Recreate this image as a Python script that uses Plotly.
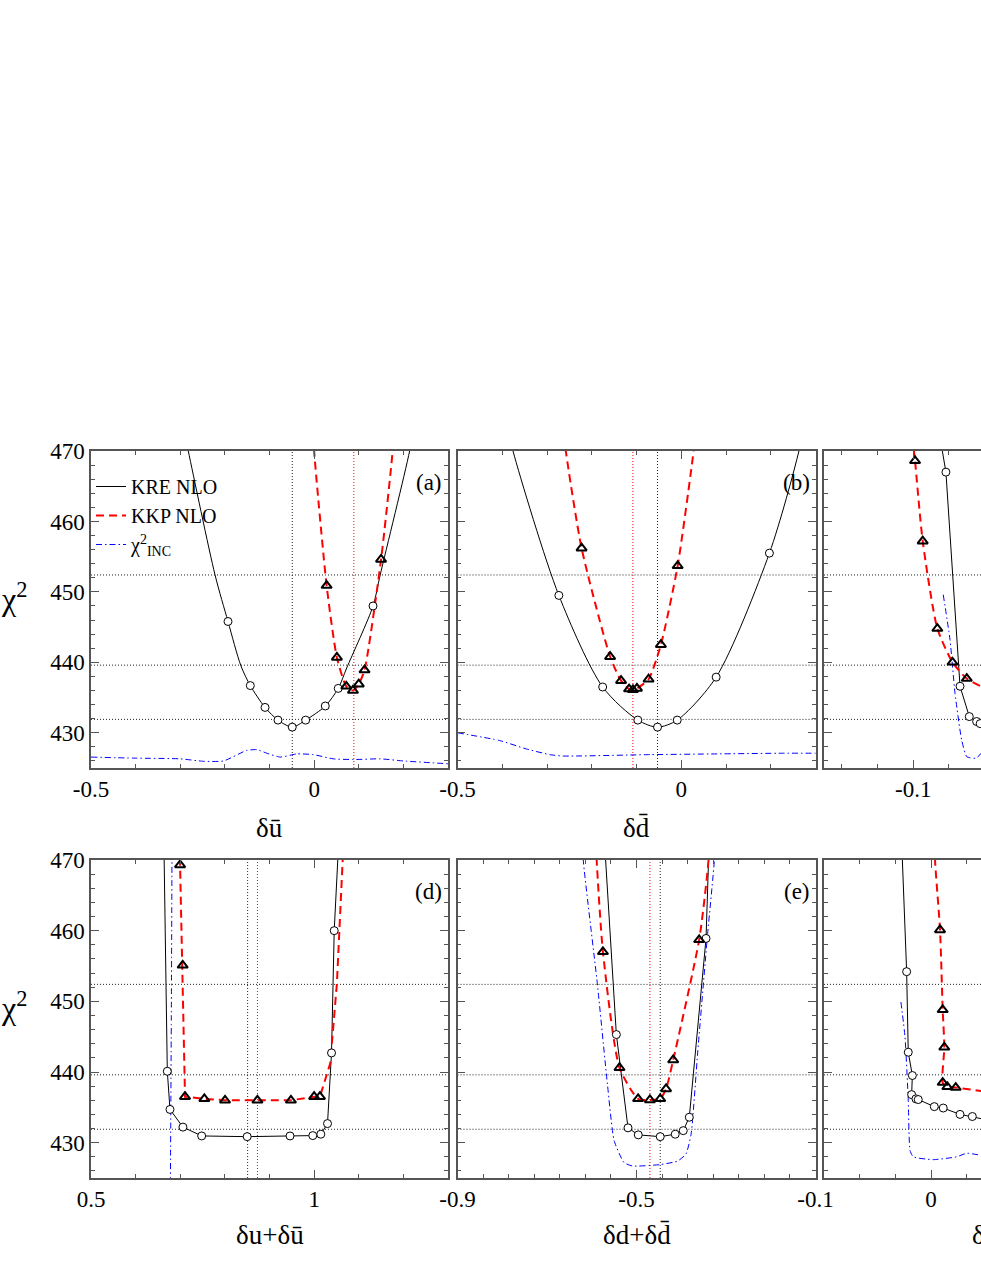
import plotly.graph_objects as go

# ---------------- data ----------------
conf_levels = [431.9, 439.6, 452.4]          # horizontal dotted levels

# (a)  delta ubar
a_kre_cx = [-0.295, -0.282, -0.222, -0.193, -0.164, -0.143, -0.110, -0.081, -0.049, -0.019, 0.025, 0.054, 0.073, 0.132, 0.148, 0.214, 0.225]
a_kre_cy = [474, 470, 452.4, 445.8, 439.5, 436.7, 433.6, 431.8, 430.8, 431.8, 433.8, 436.3, 439.2, 448.0, 452.4, 470, 474]
a_kre_px = [-0.193, -0.143, -0.110, -0.081, -0.049, -0.019, 0.025, 0.054, 0.132]
a_kre_py = [445.8, 436.7, 433.6, 431.8, 430.8, 431.8, 433.8, 436.3, 448.0]
a_kkp_cx = [-0.003, 0.000, 0.028, 0.051, 0.072, 0.087, 0.100, 0.113, 0.150, 0.176, 0.180]
a_kkp_cy = [474, 470, 450.9, 440.7, 436.6, 436.0, 436.9, 438.9, 454.6, 470, 474]
a_kkp_px = [0.028, 0.051, 0.072, 0.087, 0.100, 0.113, 0.150]
a_kkp_py = [450.9, 440.7, 436.6, 436.0, 436.9, 438.9, 454.6]
a_inc_x = [-0.5, -0.401, -0.30, -0.248, -0.203, -0.151, -0.128, -0.106, -0.076, -0.039, -0.002, 0.043, 0.088, 0.148, 0.2, 0.3]
a_inc_y = [426.55, 426.4, 426.3, 425.95, 426.0, 427.5, 427.6, 427.1, 426.55, 427.0, 426.9, 426.3, 426.2, 426.3, 426.0, 425.6]
a_min_kre, a_min_kkp = -0.049, 0.089

# (b)  delta dbar
b_kre_cx = [-0.39, -0.376, -0.2735, -0.1756, -0.097, -0.053, -0.009, 0.078, 0.197, 0.263, 0.275]
b_kre_cy = [474, 470, 449.5, 436.5, 431.8, 430.8, 431.8, 437.9, 455.5, 470, 474]
b_kre_px = [-0.2735, -0.1756, -0.097, -0.053, -0.009, 0.078, 0.197]
b_kre_py = [449.5, 436.5, 431.8, 430.8, 431.8, 437.9, 455.5]
b_kkp_cx = [-0.265, -0.258, -0.2227, -0.159, -0.1345, -0.1166, -0.108, -0.099, -0.073, -0.0455, -0.008, 0.0276, 0.034]
b_kkp_cy = [474, 470, 456.2, 440.8, 437.4, 436.2, 436.1, 436.3, 437.6, 442.5, 453.7, 470, 474]
b_kkp_px = [-0.2227, -0.159, -0.1345, -0.1166, -0.108, -0.099, -0.073, -0.0455, -0.008]
b_kkp_py = [456.2, 440.8, 437.4, 436.2, 436.1, 436.3, 437.6, 442.5, 453.7]
b_inc_x = [-0.5, -0.406, -0.346, -0.294, -0.264, -0.07, 0.08, 0.229, 0.302]
b_inc_y = [430.0, 428.9, 427.7, 426.9, 426.7, 426.9, 427.0, 427.1, 427.1]
b_min_kre, b_min_kkp = -0.053, -0.108

# (c)  delta sbar
c_kre_cx = [-0.0845, -0.0837, -0.0817, -0.0738, -0.0686, -0.0645, -0.0625, -0.058]
c_kre_cy = [474, 470, 467.0, 436.6, 432.3, 431.6, 431.3, 431.0]
c_kre_px = [-0.0817, -0.0738, -0.0686, -0.0645, -0.0625]
c_kre_py = [467.0, 436.6, 432.3, 431.6, 431.3]
c_kkp_cx = [-0.1000, -0.0996, -0.099, -0.0947, -0.0865, -0.078, -0.070, -0.062, -0.055]
c_kkp_cy = [474, 470, 468.6, 457.2, 444.8, 440.0, 437.7, 436.6, 436.0]
c_kkp_px = [-0.099, -0.0947, -0.0865, -0.078, -0.070]
c_kkp_py = [468.6, 457.2, 444.8, 440.0, 437.7]
c_inc_x = [-0.0832, -0.0794, -0.0766, -0.0729, -0.070, -0.0645, -0.062, -0.058]
c_inc_y = [449.6, 443.2, 435.6, 429.0, 426.6, 426.4, 427.1, 427.5]

# (d)  delta u + delta ubar
d_kre_cx = [0.663, 0.664, 0.671, 0.677, 0.706, 0.748, 0.850, 0.946, 0.997, 1.015, 1.030, 1.039, 1.045, 1.053, 1.055]
d_kre_cy = [474, 470, 440.1, 434.7, 432.2, 430.95, 430.85, 430.95, 431.0, 431.2, 432.7, 442.7, 460.0, 470, 474]
d_kre_px = [0.671, 0.677, 0.706, 0.748, 0.850, 0.946, 0.997, 1.015, 1.030, 1.039, 1.045]
d_kre_py = [440.1, 434.7, 432.2, 430.95, 430.85, 430.95, 431.0, 431.2, 432.7, 442.7, 460.0]
d_kkp_cx = [0.698, 0.6996, 0.7055, 0.7107, 0.754, 0.8004, 0.873, 0.948, 1.000, 1.013, 1.036, 1.051, 1.064, 1.066]
d_kkp_cy = [474, 469.3, 455.1, 436.5, 436.2, 436.0, 436.0, 436.0, 436.5, 436.5, 441.2, 452.5, 470, 474]
d_kkp_px = [0.6996, 0.7055, 0.7107, 0.754, 0.8004, 0.873, 0.948, 1.000, 1.013]
d_kkp_py = [469.3, 455.1, 436.5, 436.2, 436.0, 436.0, 436.0, 436.5, 436.5]
d_inc_x = [0.6815, 0.680, 0.678]
d_inc_y = [471, 448, 425]
d_min_kre, d_min_kkp = 0.851, 0.873

# (e)  delta d + delta dbar
e_kre_cx = [-0.571, -0.569, -0.545, -0.519, -0.496, -0.447, -0.4135, -0.3955, -0.382, -0.3446, -0.339, -0.338]
e_kre_cy = [474, 470, 445.3, 432.1, 431.1, 430.85, 431.2, 431.7, 433.6, 458.9, 470, 474]
e_kre_px = [-0.545, -0.519, -0.496, -0.447, -0.4135, -0.3955, -0.382, -0.3446]
e_kre_py = [445.3, 432.1, 431.1, 430.85, 431.2, 431.7, 433.6, 458.9]
e_kkp_cx = [-0.591, -0.589, -0.575, -0.538, -0.4964, -0.470, -0.447, -0.434, -0.418, -0.36, -0.339, -0.337]
e_kkp_cy = [474, 470, 457.0, 440.6, 436.2, 436.05, 436.2, 437.6, 441.7, 458.7, 470, 474]
e_kkp_px = [-0.575, -0.538, -0.4964, -0.470, -0.447, -0.434, -0.418, -0.36]
e_kkp_py = [457.0, 440.6, 436.2, 436.05, 436.2, 437.6, 441.7, 458.7]
e_inc_x = [-0.621, -0.619, -0.5875, -0.565, -0.550, -0.528, -0.509, -0.447, -0.408, -0.3895, -0.378, -0.363, -0.341, -0.326, -0.325]
e_inc_y = [474, 470, 452.5, 438.3, 430.3, 427.2, 426.7, 426.9, 427.4, 428.4, 431.2, 443.0, 459.6, 470, 474]
e_min_kre, e_min_kkp = -0.447, -0.470

# (f)  delta s + delta sbar
f_kre_cx = [-0.0165, -0.0161, -0.0137, -0.0128, -0.0105, -0.0109, -0.0085, -0.0072, 0.0018, 0.0068, 0.0162, 0.0231, 0.028, 0.035]
f_kre_cy = [474, 470, 454.2, 442.8, 439.5, 436.8, 436.2, 436.1, 435.1, 434.9, 434.0, 433.7, 433.4, 433.0]
f_kre_px = [-0.0137, -0.0128, -0.0105, -0.0109, -0.0085, -0.0072, 0.0018, 0.0068, 0.0162, 0.0231]
f_kre_py = [454.2, 442.8, 439.5, 436.8, 436.2, 436.1, 435.1, 434.9, 434.0, 433.7]
f_kkp_cx = [0.0020, 0.0022, 0.005, 0.0065, 0.0074, 0.0065, 0.0091, 0.0138, 0.028, 0.035]
f_kkp_cy = [474, 470, 460.1, 448.8, 443.5, 438.5, 437.9, 437.8, 437.3, 437.0]
f_kkp_px = [0.005, 0.0065, 0.0074, 0.0065, 0.0091, 0.0138]
f_kkp_py = [460.1, 448.8, 443.5, 438.5, 437.9, 437.8]
f_inc_x = [-0.0169, -0.0146, -0.0128, -0.0118, -0.010, 0.0012, 0.0143, 0.020, 0.028]
f_inc_y = [449.9, 444.9, 436.0, 428.9, 428.0, 427.6, 428.0, 428.5, 428.2]

# axis tick labels
y_ticks = [430, 440, 450, 460, 470]
a_ticks, a_ticktext = [-0.5, 0], ["-0.5", "0"]
b_ticks, b_ticktext = [-0.5, 0], ["-0.5", "0"]
c_ticks, c_ticktext = [-0.1, 0], ["-0.1", "0"]
d_ticks, d_ticktext = [0.5, 1], ["0.5", "1"]
e_ticks, e_ticktext = [-0.9, -0.5, -0.1], ["-0.9", "-0.5", "-0.1"]
f_ticks, f_ticktext = [0, 0.1], ["0", "0.1"]

# ---------------- layout geometry ----------------
W, H = 1190, 1269
ML, MR, MT, MB = 91, 9, 451, 91
PW, PH = W - ML - MR, H - MT - MB
cols_px = [(91, 448), (457.5, 815.5), (824, 1181)]
rows_px = [(451, 768), (860, 1178)]

def xdom(c):
    a, b = cols_px[c]
    return [(a - ML) / PW, (b - ML) / PW]

def ydom(r):
    a, b = rows_px[r]
    return [(H - MB - b) / PH, (H - MB - a) / PH]

SERIF = "Liberation Serif"
RED, BLUE, BLK = "#ff0000", "#0000ff", "#000000"

e_minor = [-0.9 + k * 0.8 / 14 for k in range(1, 14)]

panels = [
    dict(r=0, c=0, xr=[-0.5, 0.3], tv=a_ticks, tt=a_ticktext, minor=dict(dtick=0.1, tick0=0),
         title="δū", lab="(a)", vl=(a_min_kre, a_min_kkp),
         kre=(a_kre_cx, a_kre_cy, a_kre_px, a_kre_py), kkp=(a_kkp_cx, a_kkp_cy, a_kkp_px, a_kkp_py),
         inc=(a_inc_x, a_inc_y), shape="spline"),
    dict(r=0, c=1, xr=[-0.5, 0.3], tv=b_ticks, tt=b_ticktext, minor=dict(dtick=0.1, tick0=0),
         title="δd̄", lab="(b)", vl=(b_min_kre, b_min_kkp),
         kre=(b_kre_cx, b_kre_cy, b_kre_px, b_kre_py), kkp=(b_kkp_cx, b_kkp_cy, b_kkp_px, b_kkp_py),
         inc=(b_inc_x, b_inc_y), shape="spline"),
    dict(r=0, c=2, xr=[-0.15, 0.05], tv=c_ticks, tt=c_ticktext, minor=dict(dtick=0.02, tick0=0),
         title="δs̄", lab="(c)", vl=None,
         kre=(c_kre_cx, c_kre_cy, c_kre_px, c_kre_py), kkp=(c_kkp_cx, c_kkp_cy, c_kkp_px, c_kkp_py),
         inc=(c_inc_x, c_inc_y), shape="linear"),
    dict(r=1, c=0, xr=[0.5, 1.3], tv=d_ticks, tt=d_ticktext, minor=dict(dtick=0.1, tick0=0),
         title="δu+δū", lab="(d)", vl=(d_min_kre, d_min_kkp),
         kre=(d_kre_cx, d_kre_cy, d_kre_px, d_kre_py), kkp=(d_kkp_cx, d_kkp_cy, d_kkp_px, d_kkp_py),
         inc=(d_inc_x, d_inc_y), shape="linear"),
    dict(r=1, c=1, xr=[-0.9, -0.1], tv=e_ticks, tt=e_ticktext, minor=dict(tickmode="array", tickvals=e_minor),
         title="δd+δd̄", lab="(e)", vl=(e_min_kre, e_min_kkp),
         kre=(e_kre_cx, e_kre_cy, e_kre_px, e_kre_py), kkp=(e_kkp_cx, e_kkp_cy, e_kkp_px, e_kkp_py),
         inc=(e_inc_x, e_inc_y), shape="linear"),
    dict(r=1, c=2, xr=[-0.06, 0.14], tv=f_ticks, tt=f_ticktext, minor=dict(dtick=0.02, tick0=0),
         title="δs+δs̄", lab="(f)", vl=None,
         kre=(f_kre_cx, f_kre_cy, f_kre_px, f_kre_py), kkp=(f_kkp_cx, f_kkp_cy, f_kkp_px, f_kkp_py),
         inc=(f_inc_x, f_inc_y), shape="linear"),
]

fig = go.Figure()
layout = {}
annotations = []
shapes = []
AXC = "#555555"

for i, p in enumerate(panels):
    n = i + 1
    xa, ya = f"x{n if n > 1 else ''}", f"y{n if n > 1 else ''}"
    xk, yk = f"xaxis{n if n > 1 else ''}", f"yaxis{n if n > 1 else ''}"
    minor = dict(ticklen=4, ticks="inside", tickcolor=AXC, tickwidth=1, showgrid=False)
    minor.update(p["minor"])
    layout[xk] = dict(domain=xdom(p["c"]), anchor=ya, range=p["xr"], tickmode="array",
                      tickvals=p["tv"], ticktext=p["tt"], ticks="inside", ticklen=8, tickwidth=1,
                      tickcolor=AXC, showline=True, linecolor=AXC, linewidth=1.5, mirror="allticks",
                      showgrid=False, zeroline=False, minor=minor,
                      tickfont=dict(family=SERIF, size=23, color="black"))
    layout[yk] = dict(domain=ydom(p["r"]), anchor=xa, range=[425, 470], tickmode="array",
                      tickvals=y_ticks, ticks="inside", ticklen=8, tickwidth=1, tickcolor=AXC,
                      showline=True, linecolor=AXC, linewidth=1.5, mirror="allticks",
                      showgrid=False, zeroline=False, showticklabels=(p["c"] == 0),
                      minor=dict(dtick=2, tick0=0, ticklen=4, ticks="inside", tickcolor=AXC, tickwidth=1),
                      tickfont=dict(family=SERIF, size=23, color="black"))

    # reference levels
    for lv in conf_levels:
        shapes.append(dict(type="line", xref=f"{xa} domain", yref=ya, x0=0, x1=1, y0=lv, y1=lv,
                           line=dict(color="#222", width=1, dash="1px,2px"), layer="below"))
    if p["vl"]:
        for v, col in zip(p["vl"], ["#222", RED]):
            shapes.append(dict(type="line", xref=xa, yref=f"{ya} domain", x0=v, x1=v, y0=0, y1=1,
                               line=dict(color=col, width=1, dash="1px,2px"), layer="below"))

    first = (i == 0)
    kcx, kcy, kpx, kpy = p["kre"]
    rcx, rcy, rpx, rpy = p["kkp"]
    ix, iy = p["inc"]
    fig.add_trace(go.Scatter(x=kcx, y=kcy, mode="lines", xaxis=xa, yaxis=ya, name="KRE NLO",
                             showlegend=first, legendgroup="kre",
                             line=dict(color=BLK, width=1, shape=p["shape"], smoothing=0.8)))
    fig.add_trace(go.Scatter(x=rcx, y=rcy, mode="lines", xaxis=xa, yaxis=ya, name="KKP NLO",
                             showlegend=first, legendgroup="kkp",
                             line=dict(color=RED, width=2, dash="8px,5px",
                                       shape="spline" if p["c"] != 0 or p["r"] == 0 else "linear",
                                       smoothing=0.6)))
    fig.add_trace(go.Scatter(x=ix, y=iy, mode="lines", xaxis=xa, yaxis=ya,
                             name="χ<sup>2</sup><sub>INC</sub>", showlegend=first, legendgroup="inc",
                             line=dict(color=BLUE, width=1, dash="6px,3px,1.5px,3px", shape="spline",
                                       smoothing=0.5)))
    fig.add_trace(go.Scatter(x=kpx, y=kpy, mode="markers", xaxis=xa, yaxis=ya, showlegend=False,
                             marker=dict(symbol="circle", size=8, color="white",
                                         line=dict(color=BLK, width=1))))
    fig.add_trace(go.Scatter(x=rpx, y=rpy, mode="markers", xaxis=xa, yaxis=ya, showlegend=False,
                             marker=dict(symbol="triangle-up-open", size=9, color=BLK,
                                         line=dict(color=BLK, width=2))))

    # panel label
    annotations.append(dict(text=p["lab"], xref=f"{xa} domain", yref=f"{ya} domain", x=1, y=1,
                            xanchor="right", yanchor="top", xshift=-4, yshift=-17, showarrow=False,
                            font=dict(family=SERIF, size=23, color="black")))
    # x-axis title
    annotations.append(dict(text=p["title"], xref=f"{xa} domain", yref=f"{ya} domain", x=0.5, y=0,
                            xanchor="center", yanchor="middle", yshift=-60 if p["r"] == 0 else -57,
                            showarrow=False, font=dict(family=SERIF, size=27, color="black")))
    if p["c"] == 0:
        annotations.append(dict(text="χ<sup>2</sup>", xref=f"{xa} domain", yref=f"{ya} domain",
                                x=0, y=0.54, xanchor="right", yanchor="middle", xshift=-62,
                                showarrow=False, font=dict(family=SERIF, size=32, color="black")))

fig.update_layout(**layout)
fig.update_layout(
    width=W, height=H, margin=dict(l=ML, r=MR, t=MT, b=MB, autoexpand=False),
    paper_bgcolor="white", plot_bgcolor="white",
    annotations=annotations, shapes=shapes,
    legend=dict(x=0.0, y=0.978, xref="paper", yref="paper", xanchor="left", yanchor="top",
                bgcolor="rgba(0,0,0,0)", font=dict(family=SERIF, size=20, color="black"),
                itemwidth=30, tracegroupgap=0),
    font=dict(family=SERIF),
)

fig.write_html("out.html", config={"displayModeBar": False},
               post_script="document.body.style.margin='0';document.body.style.overflow='hidden';"
                           "document.documentElement.style.overflow='hidden';")
